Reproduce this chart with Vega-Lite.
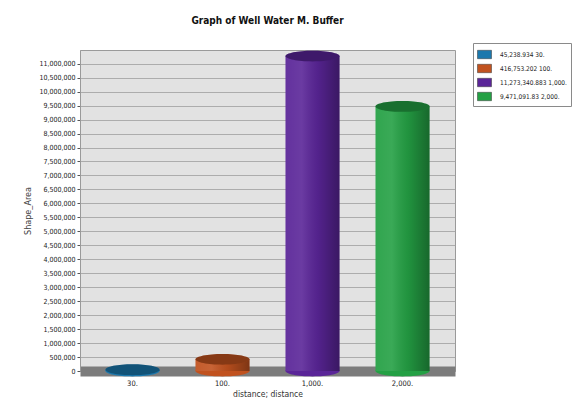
{
  "$schema": "https://vega.github.io/schema/vega-lite/v6.json",
  "width": 375,
  "height": 321,
  "autosize": {"type": "none"},
  "padding": {"left": 80, "top": 50, "right": 123, "bottom": 43},
  "background": "white",
  "config": {
    "font": "Liberation Sans Narrow, DejaVu Sans Condensed, Liberation Sans, sans-serif",
    "view": {"fill": "#e2e2e2", "stroke": "#9a9a9a", "strokeWidth": 1},
    "axisY": {"tickCount": 23, "labelOverlap": false}
  },
  "title": {
    "text": "Graph of Well Water M. Buffer",
    "fontSize": 10,
    "fontWeight": "bold",
    "color": "#111111",
    "offset": 17
  },
  "data": {
    "values": [
      {"distance": "30.", "label": "45,238.934 30.", "Shape_Area": 45238.934},
      {"distance": "100.", "label": "416,753.202 100.", "Shape_Area": 416753.202},
      {"distance": "1,000.", "label": "11,273,340.883 1,000.", "Shape_Area": 11273340.883},
      {"distance": "2,000.", "label": "9,471,091.83 2,000.", "Shape_Area": 9471091.83}
    ]
  },
  "encoding": {
    "x": {
      "field": "distance",
      "type": "nominal",
      "sort": null,
      "scale": {"paddingInner": 0.4, "paddingOuter": 0.283},
      "axis": {
        "title": "distance; distance",
        "labelAngle": 0,
        "labelFontSize": 7.5,
        "labelColor": "#222222",
        "labelPadding": 4,
        "tickSize": 4,
        "tickColor": "#555555",
        "domainColor": "#7c7c7c",
        "domainWidth": 10,
        "titleFontSize": 8.5,
        "titleFontWeight": "normal",
        "titleColor": "#333333",
        "titlePadding": 3
      }
    }
  },
  "layer": [
    {
      "mark": {"type": "point", "shape": "M-1,0 A1,0.2 0 1,0 1,0 A1,0.2 0 1,0 -1,0 Z", "size": 2916, "filled": true, "opacity": 1},
      "encoding": {
        "y": {
          "datum": 0,
          "type": "quantitative",
          "scale": {"domain": [0, 11490000], "nice": false},
          "axis": {
            "title": "Shape_Area",
            "tickCount": 23,
            "format": ",d",
            "labelOverlap": false,
            "labelFontSize": 7,
            "labelColor": "#222222",
            "tickSize": 3,
            "tickColor": "#555555",
            "domainColor": "#9a9a9a",
            "grid": true,
            "gridColor": "#9e9e9e",
            "gridWidth": 0.8,
            "gridOpacity": 1,
            "titleFontSize": 9,
            "titleFontWeight": "normal",
            "titleColor": "#444444",
            "titlePadding": 6
          }
        },
        "color": {"field": "label", "type": "nominal"}
      }
    },
    {
      "mark": {"type": "bar", "opacity": 1},
      "encoding": {
        "y": {"field": "Shape_Area", "type": "quantitative"},
        "color": {
          "field": "label",
          "type": "nominal",
          "scale": {
            "domain": ["45,238.934 30.", "416,753.202 100.", "11,273,340.883 1,000.", "9,471,091.83 2,000."],
            "range": ["#1b78ad", "#c1521f", "#5a2598", "#24a044"]
          },
          "legend": {
            "title": null,
            "orient": "none",
            "legendX": 393,
            "legendY": -7,
            "symbolType": "M-1,-0.6 H1 V0.6 H-1 Z",
            "symbolSize": 196,
            "symbolStrokeColor": "#333333",
            "symbolStrokeWidth": 0.5,
            "symbolOpacity": 1,
            "labelFontSize": 6.5,
            "labelColor": "#222222",
            "labelOffset": 8,
            "rowPadding": 1,
            "fillColor": "white",
            "strokeColor": "#8a8a8a",
            "padding": 4
          }
        }
      }
    },
    {
      "mark": {
        "type": "bar",
        "fill": {
          "gradient": "linear",
          "x1": 0, "y1": 0, "x2": 1, "y2": 0,
          "stops": [
            {"offset": 0, "color": "rgba(255,255,255,0.06)"},
            {"offset": 0.3, "color": "rgba(255,255,255,0.1)"},
            {"offset": 0.6, "color": "rgba(0,0,0,0.08)"},
            {"offset": 1, "color": "rgba(0,0,0,0.35)"}
          ]
        }
      },
      "encoding": {
        "y": {"field": "Shape_Area", "type": "quantitative"}
      }
    },
    {
      "mark": {"type": "point", "shape": "M-1,0 A1,0.2 0 1,0 1,0 A1,0.2 0 1,0 -1,0 Z", "size": 2916, "filled": true, "opacity": 1},
      "encoding": {
        "y": {"field": "Shape_Area", "type": "quantitative"},
        "color": {"field": "label", "type": "nominal"}
      }
    },
    {
      "mark": {"type": "point", "shape": "M-1,0 A1,0.2 0 1,0 1,0 A1,0.2 0 1,0 -1,0 Z", "size": 2916, "filled": true, "color": "black", "opacity": 0.3},
      "encoding": {
        "y": {"field": "Shape_Area", "type": "quantitative"}
      }
    }
  ]
}
